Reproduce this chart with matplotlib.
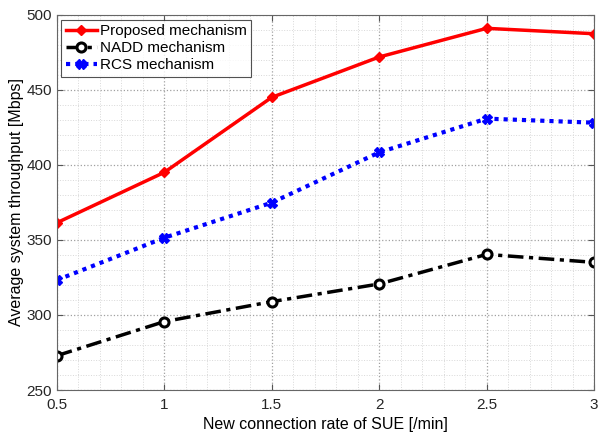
import matplotlib
matplotlib.use('Agg')
import matplotlib.pyplot as plt
import numpy as np
from matplotlib.ticker import MultipleLocator

plt.rcParams['font.family'] = ['Liberation Sans', 'DejaVu Sans']

rate = [0.5, 1, 1.5, 2, 2.5, 3]
proposed = [361.5, 395.1, 445.1, 472.0, 491.1, 487.5]
nadd = [272.9, 295.6, 308.9, 320.7, 340.4, 335.1]
rcs = [323.3, 351.5, 374.9, 408.4, 430.9, 428.2]

fig = plt.figure(figsize=(5.99, 4.33), dpi=100)
ax = fig.add_axes([0.095, 0.0993, 0.8967, 0.8661])

ax.plot(rate, proposed, color='red', lw=2.5, marker='D', ms=5.5,
        mfc='red', mec='red', label='Proposed mechanism')
ax.plot(rate, nadd, color='black', lw=2.5, ls=(0, (4.5, 1.6, 1.2, 1.6)), marker='o', ms=6.5,
        mfc='white', mec='black', mew=2.2, label='NADD mechanism')
ax.plot(rate, rcs, color='blue', lw=3, ls=(0, (1, 1.2)), marker='X', ms=6.5,
        mfc='blue', mec='blue', label='RCS mechanism')

ax.set_xlim(0.5, 3)
ax.set_ylim(250, 500)
ax.set_xticks(rate)
ax.set_xticklabels(['0.5', '1', '1.5', '2', '2.5', '3'])
ax.set_yticks([250, 300, 350, 400, 450, 500])
ax.xaxis.set_minor_locator(MultipleLocator(0.1))
ax.yaxis.set_minor_locator(MultipleLocator(10))
ax.grid(which='major', color='#a0a0a0', ls=':', lw=0.9)
ax.grid(which='minor', color='#d8d8d8', ls=':', lw=0.7)
ax.tick_params(which='both', direction='in', top=True, right=True, labelsize=11, colors='#262626')
ax.tick_params(which='minor', length=0)
ax.tick_params(which='major', length=4, color='#555555')
ax.tick_params(axis='x', pad=6)
for s in ax.spines.values():
    s.set_color('#666666')
    s.set_linewidth(0.8)

ax.set_xlabel('New connection rate of SUE [/min]', fontsize=11.5, labelpad=3)
ax.set_ylabel('Average system throughput [Mbps]', fontsize=11.5, labelpad=2)

leg = ax.legend(loc='upper left', fontsize=11, frameon=True, fancybox=False,
                edgecolor='#262626', borderpad=0.3, labelspacing=0.2,
                handlelength=2.0, handletextpad=0.2, borderaxespad=0.3)
leg.get_frame().set_linewidth(0.8)

fig.savefig('out.png', dpi=100)
